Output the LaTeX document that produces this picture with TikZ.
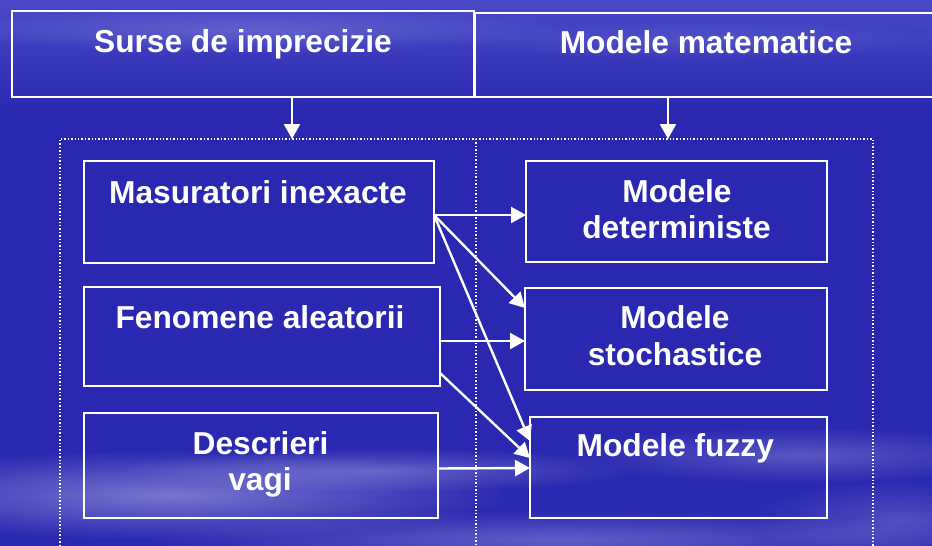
\documentclass[tikz,border=0pt]{standalone}
\usepackage{fontspec}
\setmainfont{Liberation Sans}
\usetikzlibrary{arrows.meta,fadings}
\definecolor{bgblue}{RGB}{42,40,176}
\definecolor{bgtop}{RGB}{74,74,200}
\definecolor{cloud}{RGB}{195,195,238}
\tikzfading[name=softedge, inner color=transparent!0, outer color=transparent!100]
\begin{document}
\begin{tikzpicture}[x=1pt,y=-1pt,
  box/.style={draw=white, line width=2.4pt, anchor=north west, inner sep=0pt, outer sep=0pt},
  lbl/.style={text=white, font=\fontsize{31.7}{36}\selectfont\bfseries, anchor=base, inner sep=0pt},
  arr/.style={draw=white, line width=2.4pt, -{Triangle[length=15pt,width=16pt]}},
  dots/.style={draw=white, line width=1.4pt, dotted},
  cloudy/.style={fill=cloud, path fading=softedge}]
\useasboundingbox (0,0) rectangle (932,546);
% background
\fill[bgblue] (0,0) rectangle (932,546);
\shade[top color=bgtop, bottom color=bgblue] (0,0) rectangle (932,110);
\fill[cloudy, opacity=.25] (250,30) ellipse [x radius=320, y radius=22];
\fill[cloudy, opacity=.15] (700,40) ellipse [x radius=260, y radius=18];
\fill[cloudy, opacity=.5] (170,495) ellipse [x radius=340, y radius=45];
\fill[cloudy, opacity=.35] (380,470) ellipse [x radius=260, y radius=22];
\fill[cloudy, opacity=.35] (560,540) ellipse [x radius=420, y radius=30];
\fill[cloudy, opacity=.30] (800,455) ellipse [x radius=230, y radius=28];
\fill[cloudy, opacity=.25] (900,520) ellipse [x radius=150, y radius=40];

% top boxes
\node[box, minimum width=462pt, minimum height=86pt] (tl) at (12,11) {};
\node[box, minimum width=462pt, minimum height=84pt] (tr) at (475,13) {};
\node[lbl] (tltxt) at (243,52.3) {Surse de imprecizie};
\node[lbl] (trtxt) at (706,53) {Modele matematice};

% dotted frame
\node[box, dots, minimum width=813pt, minimum height=430pt] (outer) at (60,139) {};
\coordinate (midtop) at (476,139);
\coordinate (midbot) at (476,570);
\draw[dots] (midtop) -- (midbot);

% left column
\node[box, minimum width=350pt, minimum height=102pt] (m) at (84,161) {};
\node[box, minimum width=356pt, minimum height=99pt] (fe) at (84,287) {};
\node[box, minimum width=354pt, minimum height=105pt] (de) at (84,413) {};
\node[lbl] (mtxt) at (258,203) {Masuratori inexacte};
\node[lbl] (fetxt) at (260,328) {Fenomene aleatorii};
\node[lbl] (detxta) at (260.5,454) {Descrieri};
\node[lbl] (detxtb) at (260,490.3) {vagi};

% right column
\node[box, minimum width=301pt, minimum height=101pt] (d) at (526,161) {};
\node[box, minimum width=302pt, minimum height=102pt] (s) at (525,288) {};
\node[box, minimum width=297pt, minimum height=101pt] (f) at (530,417) {};
\node[lbl] (dtxta) at (677,202.7) {Modele};
\node[lbl] (dtxtb) at (676.5,238.3) {deterministe};
\node[lbl] (stxta) at (675,328.7) {Modele};
\node[lbl] (stxtb) at (675,365.3) {stochastice};
\node[lbl] (ftxt) at (675.3,456.7) {Modele fuzzy};

% arrows
\draw[arr] ([xshift=49pt]tl.south) -- ([xshift=49pt]tl.south |- outer.north);
\draw[arr] ([xshift=-38pt]tr.south) -- ([xshift=-38pt]tr.south |- outer.north);
\draw[arr] ([yshift=-3pt]m.east) -- ([yshift=-3.5pt]d.west);
\draw[arr] ([yshift=-3pt]m.east) -- ([yshift=31pt]s.west);
\draw[arr] ([yshift=-3pt]m.east) -- ([yshift=26.5pt]f.west);
\draw[arr] ([yshift=-4.5pt]fe.east) -- ([yshift=-2pt]s.west);
\draw[arr] ([yshift=-36.5pt]fe.east) -- ([yshift=9.5pt]f.west);
\draw[arr] ([yshift=-3pt]de.east) -- ([yshift=-0.5pt]f.west);
\end{tikzpicture}
\end{document}
